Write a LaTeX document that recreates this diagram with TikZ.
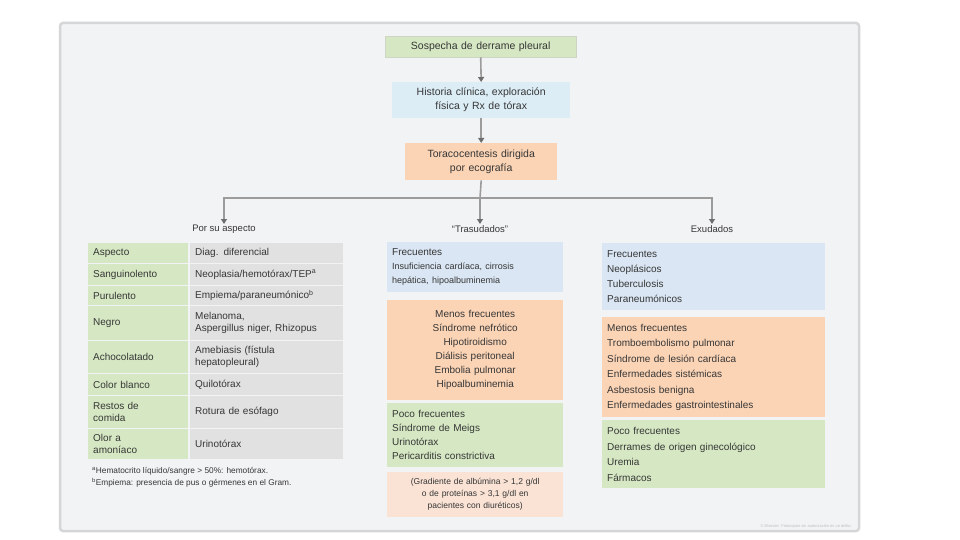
\documentclass[tikz,border=0pt]{standalone}
\usepackage{fontspec}
\setmainfont{Liberation Sans}
\usetikzlibrary{arrows.meta}
\definecolor{frameF}{HTML}{F2F3F5}
\definecolor{frameD}{HTML}{D5D6D8}
\definecolor{gr}{HTML}{D6E8C3}
\definecolor{bl}{HTML}{DAE6F3}
\definecolor{cy}{HTML}{DCEDF6}
\definecolor{or}{HTML}{FBD4B6}
\definecolor{gy}{HTML}{E1E1E2}
\definecolor{pk}{HTML}{FAE3D5}
\definecolor{txt}{HTML}{363636}
\definecolor{ln}{HTML}{9C9C9C}
\definecolor{tip}{HTML}{6E6E6E}
\tikzset{
  box/.style={inner xsep=5pt, inner ysep=2pt, anchor=north west, text=txt,
    font=\fontsize{10}{14}\selectfont},
  cell/.style={box, align=left, font=\fontsize{10}{12.5}\selectfont},
  conn/.style={draw=ln, line width=1.6pt,
    -{Triangle[length=5pt,width=6pt,color=tip]}},
  plain/.style={draw=ln, line width=1.6pt},
  lbl/.style={text=txt, font=\fontsize{9.5}{12}\selectfont, anchor=north, inner sep=1pt}
}
\begin{document}
\begin{tikzpicture}[x=1pt,y=-1pt]
\useasboundingbox (0,0) rectangle (960,540);
\fill[white] (0,0) rectangle (960,540);
\draw[frameD, fill=frameF, line width=2.5pt, rounded corners=3pt] (60,23) rectangle (859,531);

% top chain
\node[box, fill=gr, draw=gr!80!black!60, line width=0.4pt, minimum width=191pt, minimum height=21pt, align=center, text width=181pt, font=\fontsize{10.5}{14}\selectfont] (sos) at (385,36) {Sospecha de derrame pleural};
\node[box, fill=cy, minimum width=178pt, minimum height=36pt, align=center, text width=168pt, font=\fontsize{10.5}{14}\selectfont] (hist) at (392,82) {Historia clínica, exploración\\física y Rx de tórax};
\node[box, fill=or, minimum width=152pt, minimum height=37pt, align=center, text width=142pt, font=\fontsize{10.5}{14}\selectfont] (tor) at (405,143) {Toracocentesis dirigida\\por ecografía};
\draw[conn] (sos.south) -- (hist.north);
\draw[conn] (hist.south) -- (tor.north);

% branch labels
\node[lbl] (lblL) at (224,224) {Por su aspecto};
\node[lbl] (lblM) at (480,224) {“Trasudados”};
\node[lbl] (lblR) at (712,224) {Exudados};
\coordinate (hub) at (480,198);
\draw[plain] (tor.south) -- (hub);
\draw[conn] (hub) -| (lblL.north);
\draw[conn] (hub) -- (lblM.north);
\draw[conn] (hub) -| (lblR.north);

% left table
\foreach \ya/\yb/\l/\r in {
 243/263/{Aspecto}/{Diag. diferencial},
 264/285/{Sanguinolento}/{Neoplasia/hemotórax/TEP$^{\mathrm a}$},
 286/305/{Purulento}/{Empiema/paraneumónico$^{\mathrm b}$},
 306/340/{Negro}/{Melanoma,\\Aspergillus niger, Rhizopus},
 341/373/{Achocolatado}/{Amebiasis (fístula\\hepatopleural)},
 374/395/{Color blanco}/{Quilotórax},
 396/428/{Restos de\\comida}/{Rotura de esófago},
 429/459/{Olor a\\amoníaco}/{Urinotórax}}{
  \fill[gr] (88,\ya) rectangle (188,\yb);
  \fill[gy] (190,\ya) rectangle (343,\yb);
  \node[cell, anchor=west, text width=92pt] at (88,{(\ya+\yb)/2}) {\l};
  \node[cell, anchor=west, text width=143pt] at (190,{(\ya+\yb)/2}) {\r};
}
\node[box, anchor=north west, inner xsep=0pt, font=\fontsize{8.3}{12}\selectfont, align=left] (foot) at (92,465)
 {$^{\mathrm a}$Hematocrito líquido/sangre {>} 50\%: hemotórax.\\$^{\mathrm b}$Empiema: presencia de pus o gérmenes en el Gram.};

% middle column
\node[box, fill=bl, minimum width=176pt, minimum height=50pt, text width=166pt, align=left] (mF) at (387,242)
 {Frecuentes\\[3pt]{\fontsize{9}{11.5}\selectfont Insuficiencia cardíaca, cirrosis\\hepática, hipoalbuminemia}};
\node[box, fill=or, minimum width=176pt, minimum height=100pt, text width=166pt, align=center] (mM) at (387,300)
 {Menos frecuentes\\Síndrome nefrótico\\Hipotiroidismo\\Diálisis peritoneal\\Embolia pulmonar\\Hipoalbuminemia};
\node[box, fill=gr, minimum width=176pt, minimum height=64pt, text width=166pt, align=left] (mP) at (387,403)
 {Poco frecuentes\\Síndrome de Meigs\\Urinotórax\\Pericarditis constrictiva};
\node[box, fill=pk, minimum width=176pt, minimum height=45pt, text width=166pt, align=center, font=\fontsize{8.5}{12}\selectfont] (mN) at (387,472)
 {(Gradiente de albúmina {>} 1,2 g/dl\\o de proteínas {>} 3,1 g/dl en\\pacientes con diuréticos)};

% right column
\node[box, fill=bl, minimum width=223pt, minimum height=67pt, text width=213pt, align=left, font=\fontsize{10}{15}\selectfont] (rF) at (602,243)
 {Frecuentes\\Neoplásicos\\Tuberculosis\\Paraneumónicos};
\node[box, fill=or, minimum width=223pt, minimum height=100pt, text width=213pt, align=left, font=\fontsize{10}{15.5}\selectfont] (rM) at (602,317)
 {Menos frecuentes\\Tromboembolismo pulmonar\\Síndrome de lesión cardíaca\\Enfermedades sistémicas\\Asbestosis benigna\\Enfermedades gastrointestinales};
\node[box, fill=gr, minimum width=223pt, minimum height=68pt, text width=213pt, align=left, font=\fontsize{10}{15.5}\selectfont] (rP) at (602,420)
 {Poco frecuentes\\Derrames de origen ginecológico\\Uremia\\Fármacos};

\node[text=black!25, font=\fontsize{4}{5}\selectfont, anchor=east, inner sep=0pt] (cp) at (852,526) {© Elsevier. Fotocopiar sin autorización es un delito.};
\end{tikzpicture}
\end{document}
